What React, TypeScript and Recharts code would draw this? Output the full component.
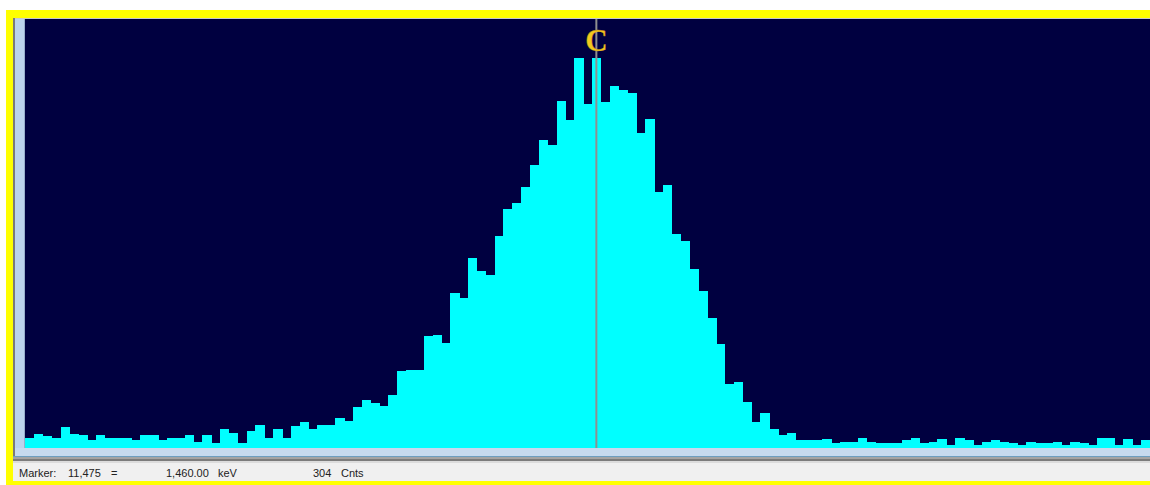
import { BarChart, Bar, XAxis, YAxis, ReferenceLine } from 'recharts';

// counts per bin, left to right across the spectrum window
const counts = [
  8, 11, 9, 8, 16, 11, 10, 6, 10, 8,
  8, 8, 6, 10, 10, 6, 8, 8, 10, 5,
  10, 4, 15, 12, 4, 13, 18, 8, 15, 8,
  17, 20, 15, 18, 18, 23, 21, 32, 37, 35,
  33, 41, 60, 61, 61, 87, 88, 82, 121, 117,
  148, 138, 135, 165, 186, 191, 203, 220, 240, 236,
  270, 255, 304, 268, 304, 269, 282, 279, 276, 245,
  256, 199, 205, 167, 161, 139, 122, 101, 81, 50,
  51, 36, 20, 27, 15, 10, 12, 6, 6, 6,
  7, 4, 5, 5, 8, 5, 4, 4, 4, 6,
  8, 4, 5, 7, 2, 8, 6, 2, 5, 6,
  5, 4, 2, 5, 4, 4, 5, 2, 5, 4,
  2, 8, 8, 2, 7, 2, 6,
];

const bins = counts.map((_, i) => i);

// cursor "C" sits on this bin
const markerBin = 64;
const markerChannel = '11,475';
const markerEnergy = '1,460.00';
const markerUnit = 'keV';

const data = bins.map((b, i) => ({ bin: b, cnt: counts[i] }));

const NAVY = '#000040';
const CYAN = '#00ffff';

const box = (left: number, top: number, width: number, height: number, background: string) => (
  <div style={{ position: 'absolute', left, top, width, height, background }} />
);

// histogram step: widen each rect a little so neighbouring bins touch
const StepBar = (p: any) => {
  if (!p.height) return null;
  const bandW = 1125 / counts.length;
  const x0 = p.x + (p.width - bandW) / 2;
  return <rect x={x0} y={p.y} width={bandW + 0.6} height={p.height} fill={CYAN} shapeRendering="crispEdges" />;
};

const CursorLabel = (props: any) => {
  const x = props.viewBox?.x ?? 0;
  const y = props.viewBox?.y ?? 0;
  return (
    <text
      x={x}
      y={y + 32}
      textAnchor="middle"
      fill="#f2ca1e"
      stroke="#b8801a"
      strokeWidth={0.4}
      fontFamily="'Liberation Serif', 'DejaVu Serif', serif"
      fontWeight="bold"
      fontSize={31}
    >
      C
    </text>
  );
};

const App = () => {
  return (
    <div style={{ position: 'fixed', left: 0, top: 0, width: 1150, height: 485, background: '#fff', overflow: 'hidden' }}>
      {/* yellow frame */}
      {box(6, 10, 1144, 475, '#ffff00')}
      {/* window body */}
      {box(13, 18, 1137, 463, '#f0f0f0')}
      {box(13, 18, 1137, 1, '#c8c8cc')}
      {box(13, 18, 2, 443, '#7a7a7a')}
      {box(15, 19, 9, 437, '#bcd3ec')}
      {box(24, 19, 1, 429, '#97aecb')}
      {box(15, 448, 1135, 8, '#c6daef')}
      {box(13, 456, 1137, 1, '#6d9ec0')}
      {box(13, 457, 1137, 2, '#a4a4a4')}
      {box(13, 459, 1137, 2, '#7c7c7c')}
      {box(13, 461, 1137, 2, '#dcdcdc')}
      {/* plot area */}
      {box(25, 19, 1125, 429, NAVY)}
      <div style={{ position: 'absolute', left: 25, top: 19 }}>
        <BarChart
          width={1125}
          height={429}
          data={data}
          margin={{ top: 0, right: 0, bottom: 0, left: 0 }}
          barCategoryGap={0}
        >
          <XAxis dataKey="bin" hide />
          <YAxis hide domain={[0, 334]} />
          <Bar dataKey="cnt" fill={CYAN} shape={StepBar} isAnimationActive={false} />
          <ReferenceLine x={markerBin} stroke="#8f8f8f" strokeWidth={2} label={CursorLabel} />
        </BarChart>
      </div>
      {/* status bar */}
      <svg
        width={1150}
        height={22}
        style={{ position: 'absolute', left: 0, top: 461 }}
        fontFamily="'Liberation Sans', Arial, sans-serif"
        fontSize={11}
        fill="#222"
      >
        <text x={19} y={15.5}>Marker:</text>
        <text x={68} y={15.5}>{markerChannel}</text>
        <text x={111} y={15.5}>=</text>
        <text x={166} y={15.5}>{markerEnergy}</text>
        <text x={218} y={15.5}>{markerUnit}</text>
        <text x={313} y={15.5}>{counts[markerBin]}</text>
        <text x={341} y={15.5}>Cnts</text>
      </svg>
    </div>
  );
};

export default App;
